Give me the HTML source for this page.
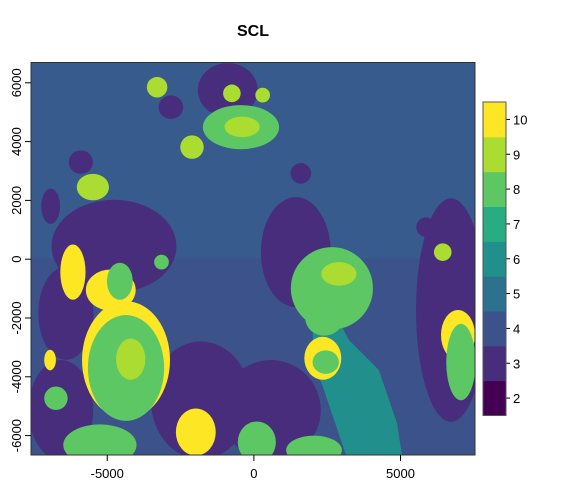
<!DOCTYPE html>
<html><head><meta charset="utf-8"><style>
html,body{margin:0;padding:0;background:#fff;}
svg{display:block;font-family:"Liberation Sans",Arial,sans-serif;}
</style></head><body>
<svg id="chart" width="576" height="504" viewBox="0 0 576 504" xmlns="http://www.w3.org/2000/svg">
<defs><clipPath id="pc"><rect x="31" y="62.5" width="444" height="392.5"/></clipPath></defs>
<text x="253" y="36" text-anchor="middle" font-size="16" font-weight="bold">SCL</text>
<g id="raster" clip-path="url(#pc)"></g>
<g id="axes"></g>
<g id="legend"></g>
</svg>
<script>
const classes=[2,3,4,5,6,7,8,9,10];
const classColors=["#440154","#472D7B","#3B528B","#2C728E","#21908C","#27AD81","#5DC863","#AADC32","#FDE725"];
const xTicks=[-5000,0,5000];
const yTicks=[-6000,-4000,-2000,0,2000,4000,6000];
const xDomain=[-7600,7540];
const yDomain=[-6660,6690];
// blobs: [cx, cy, rx, ry, class] in map units
const purpleBlobs=[[-890,5750,1020,920,3],[-2830,5170,420,400,3],[-5900,3300,410,400,3],[-6930,1800,320,600,3],[-4770,440,2130,1580,3],[-6410,-1840,940,1580,3],[1430,240,1190,1870,3],[6720,-1730,1190,3800,3],[-1810,-4800,1700,2000,3],[580,-5130,1700,1700,3],[-6580,-5130,1100,1700,3],[5870,1090,330,330,3],[1600,2920,350,350,3]];
const lakeX=[2010,2760,3240,4260,4880,5050,3140,2390,2010];
const lakeY=[-1970,-1840,-2750,-3770,-5580,-6660,-6660,-4450,-3430];
const yellowBlobs=[[-6170,-440,430,940,10],[-4360,-3430,1500,2000,10],[-4880,-1050,850,700,10],[2350,-3370,630,730,10],[-1980,-5880,680,800,10],[6960,-2580,580,850,10],[-6950,-3430,200,350,10]];
const greenBlobs=[[-440,4490,1300,750,8],[2660,-990,1400,1400,8],[2400,-2000,650,600,8],[-4360,-3700,1300,1800,8],[-4570,-750,440,630,8],[-6750,-4730,400,400,8],[-5250,-6320,1250,700,8],[100,-6220,650,700,8],[2050,-6500,950,500,8],[7060,-3500,500,1300,8],[2450,-3500,450,400,8],[-3150,-100,250,250,8]];
const lightBlobs=[[-3300,5850,350,350,9],[-750,5640,300,300,9],[300,5580,250,250,9],[-2110,3810,400,400,9],[-5490,2450,550,450,9],[6440,240,300,300,9],[-400,4500,600,350,9],[2900,-500,600,400,9],[-4200,-3400,500,700,9]];

const L=31,R=475,T=62.5,B=455;
const sx=v=>L+(v-xDomain[0])/(xDomain[1]-xDomain[0])*(R-L);
const sy=v=>B-(v-yDomain[0])/(yDomain[1]-yDomain[0])*(B-T);
const NS="http://www.w3.org/2000/svg";
const col=c=>classColors[classes.indexOf(c)];
function mk(tag,attrs,parent){const e=document.createElementNS(NS,tag);for(const k in attrs)e.setAttribute(k,attrs[k]);parent.appendChild(e);return e;}
const ras=document.getElementById('raster');
const bg=mk('rect',{x:L,y:T,width:R-L,height:B-T,fill:col(4)},ras);


const tex=mk('rect',{x:L,y:T,width:R-L,height:(B-T)*0.5,fill:col(5),opacity:0.3},ras);


function drawBlobs(arr,name){arr.forEach(b=>{const e=mk('ellipse',{cx:sx(b[0]),cy:sy(b[1]),rx:Math.abs(sx(b[2])-sx(0)),ry:Math.abs(sy(0)-sy(b[3])),fill:col(b[4])},ras);

});}
drawBlobs(purpleBlobs,'class3-region');
const lake=mk('polygon',{points:lakeX.map((x,i)=>sx(x)+','+sy(lakeY[i])).join(' '),fill:col(6)},ras);


drawBlobs(yellowBlobs,'class10-region');
drawBlobs(greenBlobs,'class8-region');
drawBlobs(lightBlobs,'class9-region');

const ax=document.getElementById('axes');
const box=mk('rect',{x:L,y:T,width:R-L,height:B-T,fill:'none',stroke:'#333','stroke-width':1},ax);


xTicks.forEach(t=>{const x=sx(t);mk('line',{x1:x,x2:x,y1:B,y2:B+6,stroke:'#000'},ax);
const tx=mk('text',{x:x,y:B+23,'text-anchor':'middle','font-size':13},ax);tx.textContent=t;

});
yTicks.forEach(t=>{const y=sy(t);mk('line',{x1:L,x2:L-6,y1:y,y2:y,stroke:'#000'},ax);
const tx=mk('text',{x:0,y:0,'text-anchor':'middle','font-size':13,transform:`translate(${L-10},${y}) rotate(-90)`},ax);tx.textContent=t;

});

const lg=document.getElementById('legend');
const LT=102,LB=415.5,LX=483,LW=23,h=(LB-LT)/classes.length;
classes.forEach((c,i)=>{const y=LB-(i+1)*h;const r=mk('rect',{x:LX,y:y,width:LW,height:h+0.5,fill:classColors[i]},lg);


mk('line',{x1:LX+LW,x2:LX+LW+4,y1:y+h/2,y2:y+h/2,stroke:'#000'},lg);
const tx=mk('text',{x:LX+LW+7,y:y+h/2+5,'font-size':13},lg);tx.textContent=c;

});
const lb=mk('rect',{x:LX,y:LT,width:LW,height:LB-LT,fill:'none',stroke:'#555'},lg);


</script>
</body></html>
